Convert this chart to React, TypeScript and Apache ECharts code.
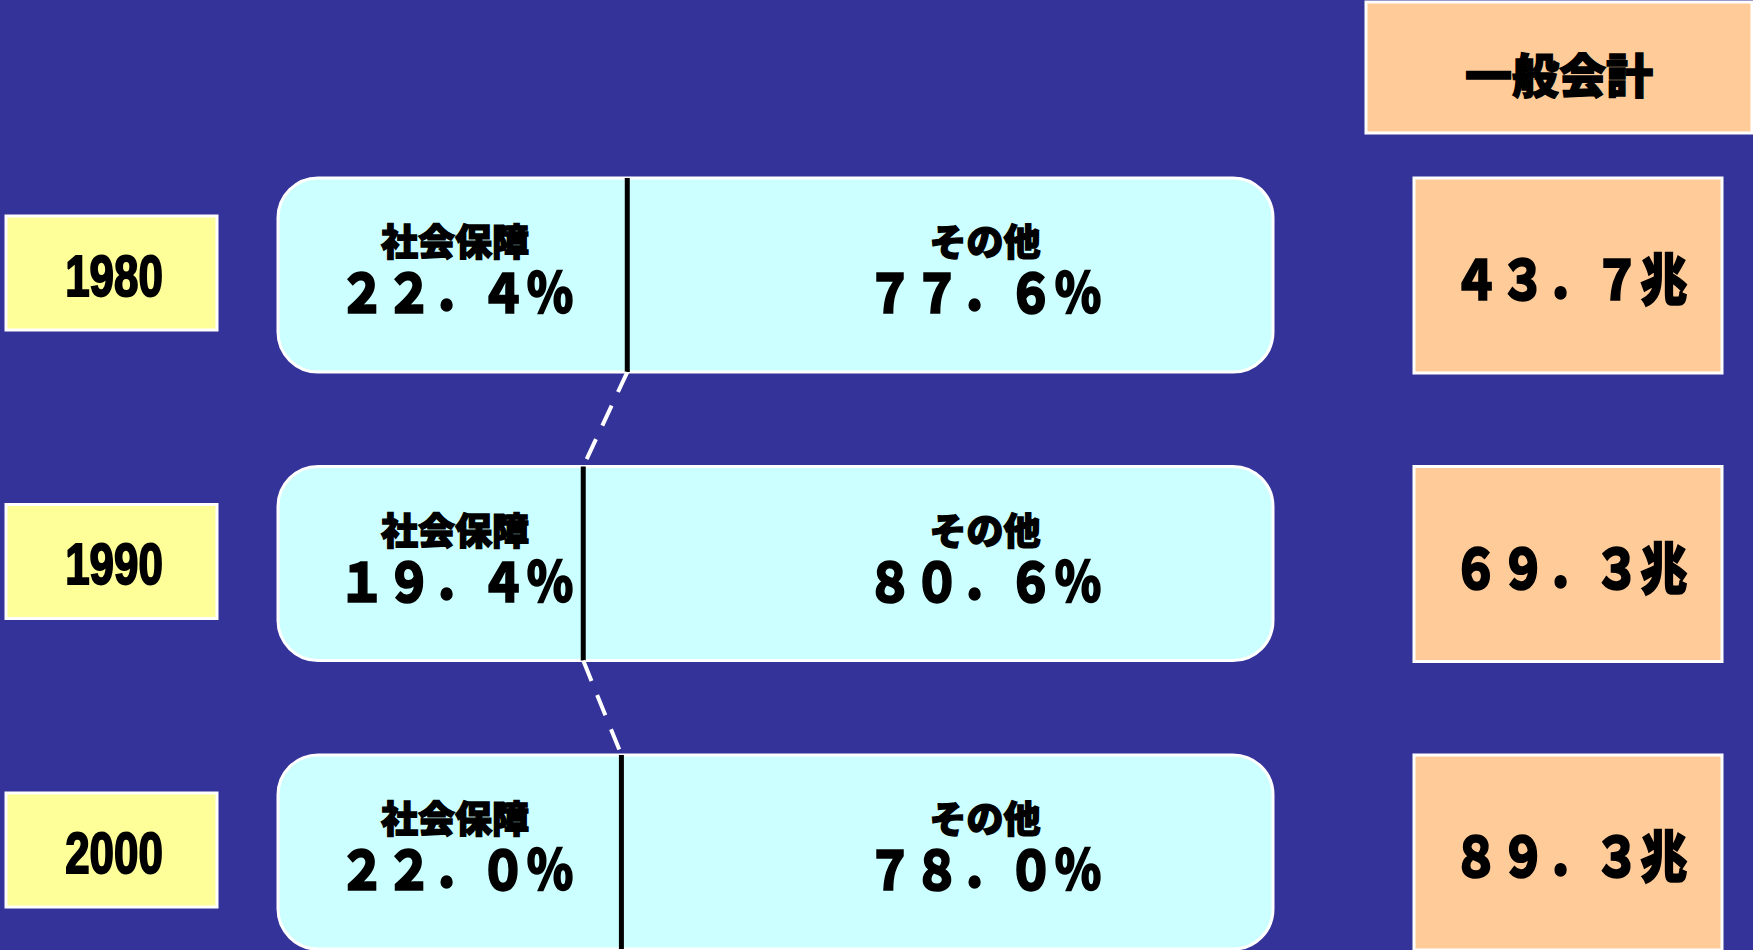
import React, { useEffect, useRef } from "react";
import * as echarts from "echarts";

// ---- data ----
const years = ["1980", "1990", "2000"];
const segmentNames = ["社会保障", "その他"];
const socialShare = [22.4, 19.4, 22.0];
const otherShare = [77.6, 80.6, 78.0];
const totals = [43.7, 69.3, 89.3];
const headerLabel = "一般会計";
const totalUnit = "兆";

const toFullWidth = (s: string) =>
  s.replace(/[0-9.%]/g, (c) =>
    c === "." ? "．" : c === "%" ? "％" : String.fromCharCode(c.charCodeAt(0) + 0xfee0)
  );

const CJK = "'Noto Sans CJK JP', 'Noto Sans CJK SC', sans-serif";

export default function App() {
  const ref = useRef<HTMLDivElement>(null);

  useEffect(() => {
    if (!ref.current) return;
    const chart = echarts.init(ref.current, undefined, { renderer: "svg" });

    const seriesData = socialShare.map((v, i) => [v, i, otherShare[i], totals[i]]);

    const cjkStyle = (text: string, size: number) => ({
      text,
      fill: "#000",
      stroke: "#000",
      lineWidth: 1.4,
      fontSize: size,
      fontWeight: 900,
      fontFamily: CJK,
      align: "center",
      verticalAlign: "middle",
    });

    const option: any = {
      animation: false,
      backgroundColor: "#333399",
      grid: { left: 278, top: 275, width: 995, height: 577, containLabel: false },
      xAxis: { type: "value", min: -1.4, max: 66.4, show: false },
      yAxis: {
        type: "category",
        data: years,
        inverse: true,
        boundaryGap: false,
        show: false,
      },
      graphic: [
        {
          type: "group",
          children: [
            {
              type: "rect",
              shape: { x: 1366, y: 2, width: 386, height: 131 },
              style: { fill: "#FFCC99", stroke: "#ffffff", lineWidth: 3 },
            },
            {
              type: "text",
              x: 1559,
              y: 72,
              style: cjkStyle(headerLabel, 47),
            },
          ],
        },
      ],
      series: [
        {
          type: "custom",
          coordinateSystem: "cartesian2d",
          clip: false,
          encode: { x: 0, y: 1 },
          data: seriesData,
          renderItem: (params: any, api: any) => {
            const i = params.dataIndex;
            const v = api.value(0);
            const other = api.value(2);
            const total = api.value(3);
            const pt = api.coord([v, i]);
            const cs = params.coordSys;
            const bandH = api.size([0, 1])[1] || 288;
            const h = bandH * 0.673;
            const top = pt[1] - h / 2;
            const cy = pt[1];
            const children: any[] = [
              // year box
              {
                type: "rect",
                shape: { x: 6, y: cy - 59, width: 211, height: 114 },
                style: { fill: "#FFFF99", stroke: "#ffffff", lineWidth: 3 },
              },
              {
                type: "text",
                x: 114,
                y: cy + 1,
                scaleX: 0.77,
                style: {
                  text: years[i],
                  fill: "#000",
                  stroke: "#000",
                  lineWidth: 2,
                  fontSize: 57,
                  fontWeight: "bold",
                  fontFamily: "'Liberation Sans', Arial, sans-serif",
                  align: "center",
                  verticalAlign: "middle",
                },
              },
              // total box
              {
                type: "rect",
                shape: { x: 1414, y: cy - 97, width: 308, height: 195 },
                style: { fill: "#FFCC99", stroke: "#ffffff", lineWidth: 3 },
              },
              {
                type: "text",
                x: 1570,
                y: cy + 1,
                scaleY: 1.18,
                style: cjkStyle(toFullWidth(total.toFixed(1)) + totalUnit, 47),
              },
              // share box
              {
                type: "rect",
                shape: { x: cs.x, y: top, width: cs.width, height: h, r: 40 },
                style: { fill: "#CCFFFF", stroke: "#ffffff", lineWidth: 3 },
              },
              {
                type: "line",
                shape: { x1: pt[0], y1: top, x2: pt[0], y2: top + h },
                style: { stroke: "#000", lineWidth: 5 },
              },
              { type: "text", x: cs.x + 177, y: cy - 35, style: cjkStyle(segmentNames[0], 37) },
              {
                type: "text",
                x: cs.x + 178,
                y: cy + 15,
                scaleY: 1.15,
                style: cjkStyle(toFullWidth(v.toFixed(1) + "%"), 47),
              },
              { type: "text", x: cs.x + 707, y: cy - 35, style: cjkStyle(segmentNames[1], 37) },
              {
                type: "text",
                x: cs.x + 706,
                y: cy + 15,
                scaleY: 1.15,
                style: cjkStyle(toFullWidth(other.toFixed(1) + "%"), 47),
              },
            ];
            if (i < socialShare.length - 1) {
              const nxt = api.coord([socialShare[i + 1], i + 1]);
              children.push({
                type: "line",
                shape: { x1: pt[0], y1: top + h, x2: nxt[0], y2: nxt[1] - h / 2 },
                style: { stroke: "#ffffff", lineWidth: 4, lineDash: [22, 15] },
              });
            }
            return { type: "group", children };
          },
        },
      ],
    };

    chart.setOption(option);
    return () => chart.dispose();
  }, []);

  return (
    <div
      ref={ref}
      style={{ position: "fixed", left: 0, top: 0, width: 1753, height: 950 }}
    />
  );
}
